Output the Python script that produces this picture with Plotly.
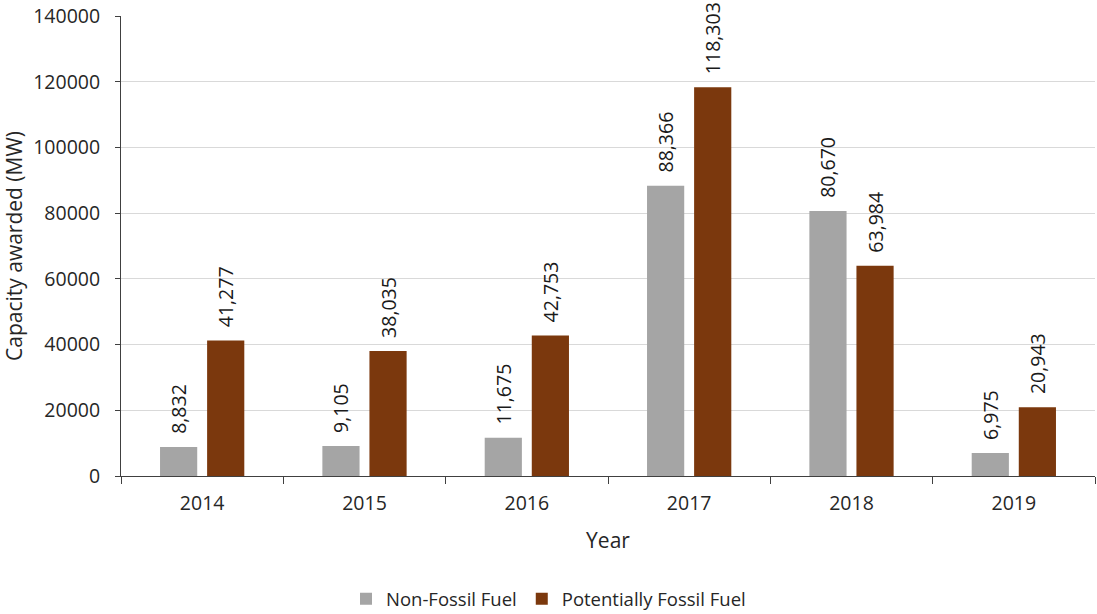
import plotly.graph_objects as go

years = ["2014", "2015", "2016", "2017", "2018", "2019"]
non_fossil = [8832, 9105, 11675, 88366, 80670, 6975]
potentially_fossil = [41277, 38035, 42753, 118303, 63984, 20943]

FONT = "Open Sans"
INK = "#262626"
GRAY = "#A5A5A5"
BROWN = "#7B380D"
PAD = "\u00a0\u00a0"  # small gap between bar top and its rotated value label

fig = go.Figure()
for name, vals, color in [
    ("Non-Fossil Fuel", non_fossil, GRAY),
    ("Potentially Fossil Fuel", potentially_fossil, BROWN),
]:
    fig.add_trace(go.Bar(
        x=years, y=vals, name=name,
        marker=dict(color=color, line=dict(width=0)),
        text=[PAD + f"{v:,}" for v in vals],
        textposition="outside", textangle=-90,
        constraintext="none",
        textfont=dict(family=FONT, size=19.5, color="#1a1a1a"),
        cliponaxis=False,
    ))

fig.update_layout(
    width=1097, height=614,
    margin=dict(l=121, r=2, t=16, b=138, autoexpand=False),
    plot_bgcolor="white", paper_bgcolor="white",
    barmode="group", bargap=0.42, bargroupgap=0.21,
    font=dict(family=FONT, size=19.5, color=INK),
    showlegend=True,
    legend=dict(orientation="h", x=0.5, xref="container", xanchor="center",
                y=-0.268, yanchor="middle", font=dict(size=18.5),
                itemwidth=30, tracegroupgap=0),
    xaxis=dict(
        title=dict(text="Year", font=dict(size=21), standoff=17),
        showline=True, linecolor="#404040", linewidth=1,
        ticks="outside", tickson="boundaries", ticklen=7, tickcolor="#404040",
        ticklabelstandoff=10,
        showgrid=False,
    ),
    yaxis=dict(
        title=dict(text="Capacity awarded (MW)", font=dict(size=21), standoff=8),
        range=[0, 140000], dtick=20000, tickformat="d",
        showline=True, linecolor="#404040", linewidth=1,
        ticks="outside", ticklen=5, tickcolor="#404040",
        ticklabelstandoff=11,
        showgrid=True, gridcolor="#D9D9D9", gridwidth=1,
        zeroline=False,
    ),
)

fig.write_html("out.html")
